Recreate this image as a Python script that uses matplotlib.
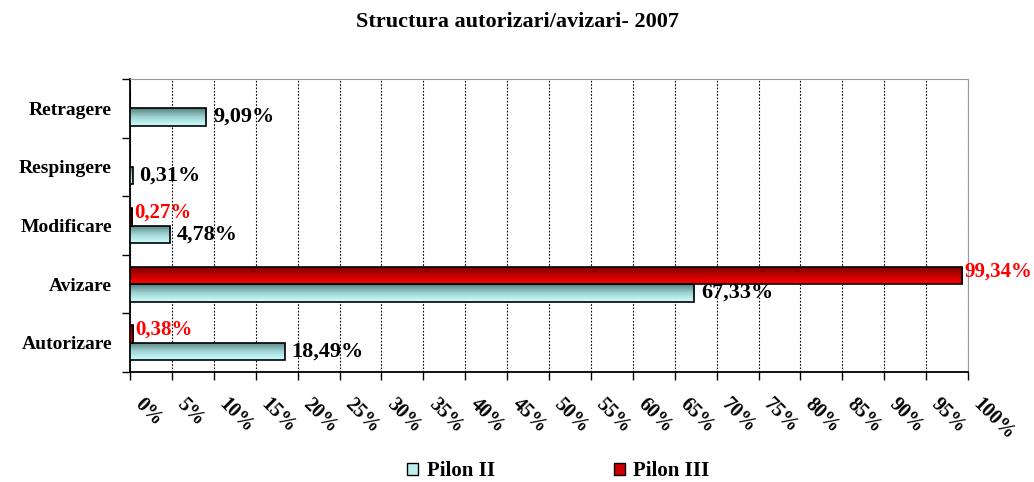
import numpy as np
import matplotlib
matplotlib.use('Agg')
import matplotlib.pyplot as plt
import matplotlib.transforms as mtransforms
from matplotlib.patches import Patch
from matplotlib.colors import LinearSegmentedColormap

# Data
categories = ['Autorizare', 'Avizare', 'Modificare', 'Respingere', 'Retragere']
pilon_2 = [18.49, 67.33, 4.78, 0.31, 9.09]
pilon_3 = [0.38, 99.34, 0.27, 0.0, 0.0]
series_names = ['Pilon II', 'Pilon III']
xticks = np.arange(0, 101, 5)

plt.rcParams['font.family'] = ['Liberation Serif', 'DejaVu Serif']
plt.rcParams['font.weight'] = 'bold'

cmap_cyan = LinearSegmentedColormap.from_list('cy', ['#ccffff', '#a0d4d4', '#557f7f'])
cmap_red = LinearSegmentedColormap.from_list('rd', ['#ff0000', '#c00000', '#700000'])

fig = plt.figure(figsize=(10.34, 4.82), dpi=100)
ax = fig.add_axes([130/1034, 1-372/482, (968-130)/1034, (372-79)/482])

y = np.arange(len(categories))
h = 0.3
bars2 = ax.barh(y - h/2, pilon_2, height=h, color='#bfeeee', edgecolor='black', linewidth=1.2, zorder=3)
bars3 = ax.barh(y + h/2, pilon_3, height=h, color='#d00000', edgecolor='black', linewidth=1.2, zorder=3)

# gradient fill clipped to each bar
grad = np.linspace(0, 1, 64).reshape(-1, 1)
for bars, cm in [(bars2, cmap_cyan), (bars3, cmap_red)]:
    for b in bars:
        if b.get_width() <= 0:
            continue
        x0, y0 = b.get_x(), b.get_y()
        im = ax.imshow(grad, cmap=cm, aspect='auto', origin='lower',
                       extent=[x0, x0 + b.get_width(), y0, y0 + b.get_height()], zorder=3.5)
        im.set_clip_path(b)
        b.set_facecolor('none')
        b.set_zorder(4)

ax.set_xlim(0, 100)
ax.set_ylim(-0.5, len(categories) - 0.5)

# value labels
for i, v in enumerate(pilon_2):
    ax.text(v + 0.8, y[i] - h/2, f'{v:.2f}%'.replace('.', ','), va='center', ha='left',
            fontsize=16, fontweight='bold', color='black', zorder=5)
for i, v in enumerate(pilon_3):
    if v <= 0:
        continue
    ax.text(v + 0.25, y[i] + h/2 + 0.07, f'{v:.2f}%'.replace('.', ','), va='center', ha='left',
            fontsize=15, fontweight='bold', color='red', zorder=5, clip_on=False)

# axes styling
ax.set_yticks(y)
ax.set_yticklabels(categories, fontsize=14, fontweight='bold')
ax.set_yticks(np.arange(-0.5, len(categories), 1), minor=True)
ax.tick_params(axis='y', which='major', length=0, pad=13)
ax.tick_params(axis='y', which='minor', length=6, direction='out', width=1)
ax.set_xticks(xticks)
ax.set_xticklabels([f'{t}%' for t in xticks], rotation=-45, ha='left', va='center',
                   fontsize=14.5, fontweight='bold')
ax.tick_params(axis='x', length=6, direction='out', width=1, pad=15)
shift = mtransforms.ScaledTranslation(8/100, 0, fig.dpi_scale_trans)
for lab in ax.get_xticklabels():
    lab.set_rotation_mode('anchor')
    lab.set_transform(lab.get_transform() + shift)

ax.grid(axis='x', linestyle=(0, (1.5, 1.5)), color='black', linewidth=0.8, zorder=0)
ax.spines['top'].set_color('#999999')
ax.spines['right'].set_color('#999999')
ax.spines['left'].set_linewidth(1.3)
ax.spines['bottom'].set_linewidth(1.3)

fig.suptitle('Structura autorizari/avizari- 2007', y=0.975, fontsize=16, fontweight='bold')

handles = [Patch(facecolor='#bfeeee', edgecolor='black', linewidth=1),
           Patch(facecolor='#d00000', edgecolor='black', linewidth=1)]
fig.legend(handles, series_names, loc='center', bbox_to_anchor=(0.54, 0.022), ncol=2,
           frameon=False, handlelength=0.55, handleheight=0.55, handletextpad=0.4,
           columnspacing=5.7, borderpad=0.2, prop={'weight': 'bold', 'size': 15})

fig.savefig('out.png', dpi=100)
